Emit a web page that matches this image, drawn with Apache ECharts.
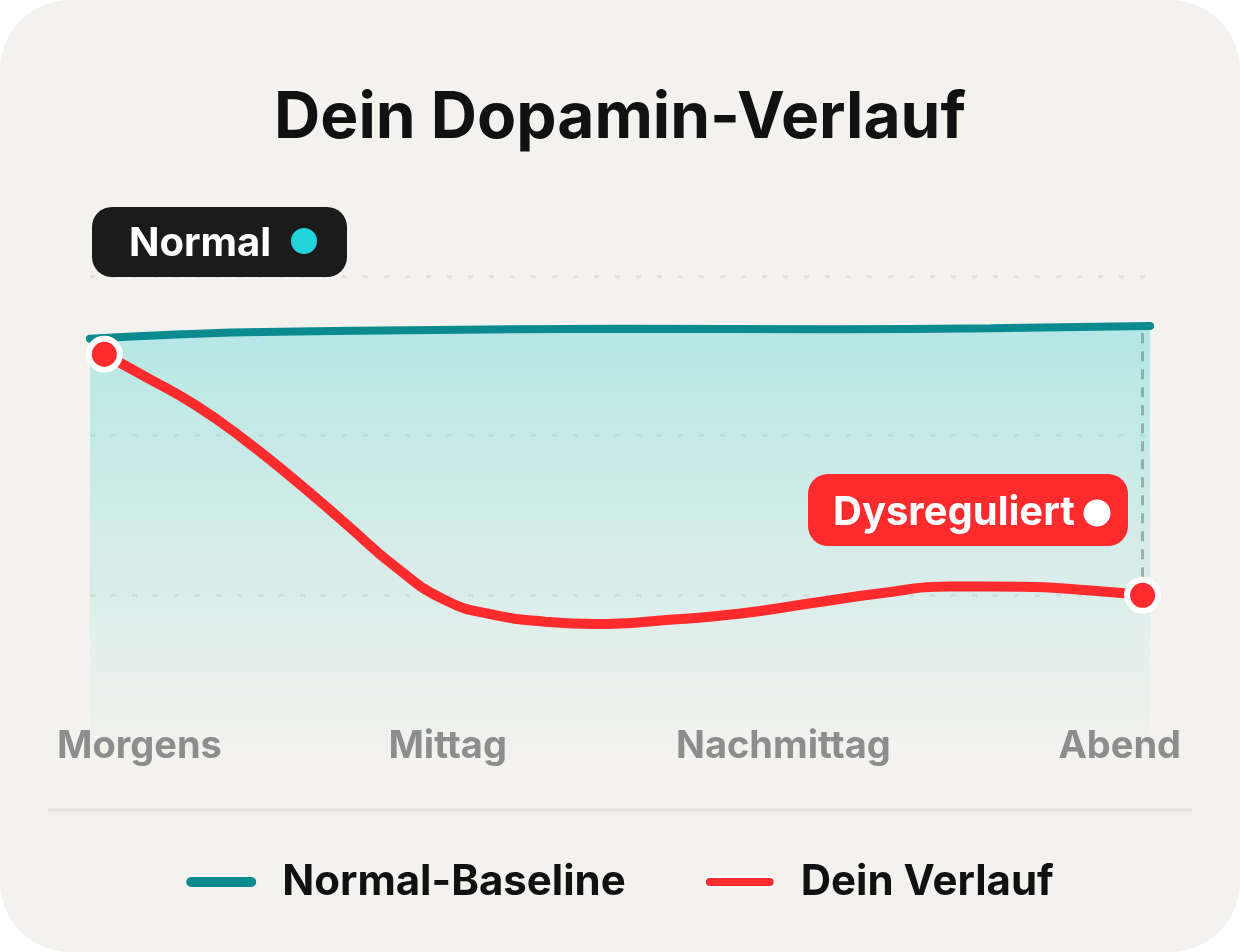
<!DOCTYPE html>
<html>
<head>
<meta charset="utf-8">
<script src="https://cdn.jsdelivr.net/npm/echarts@6/dist/echarts.min.js"></script>
<style>
  html, body { margin: 0; padding: 0; background: #ffffff; }
  #card { width: 1240px; height: 952px; border-radius: 70px; background: #f3f2ee; overflow: hidden; }
  #chart { width: 1240px; height: 952px; }
</style>
</head>
<body>
<div id="card"><div id="chart"></div></div>
<script>
// ---- data ----
const titleText = 'Dein Dopamin-Verlauf';
const categories = ['Morgens', 'Mittag', 'Nachmittag', 'Abend'];
const seriesNames = ['Normal-Baseline', 'Dein Verlauf'];
// x: progress through the day (0..100), y: dopamine level
const normalBaseline = [[0, 78.2], [12, 79.3], [30, 79.8], [50, 80.1], [70, 80.0], [85, 80.2], [100, 80.6]];
const deinVerlauf = [[1.35, 75.3], [5.2, 71.1], [9.9, 65.8], [14.6, 59.2], [19.3, 51.7], [24.1, 43.5], [28.8, 35.4],
  [33.5, 29.1], [38.2, 26.3], [42.9, 25.05], [47.6, 24.6], [54.7, 25.4], [61.4, 26.6], [68.0, 28.5], [74.6, 30.4],
  [81.2, 31.65], [87.8, 31.6], [94.4, 30.9], [99.3, 30.0]];
const badgeNormal = 'Normal';
const badgeDys = 'Dysreguliert';
const gapLineX = 99.3;
const gapLineFrom = 30.0;
const gapLineTo = 80.6;

const FONT = 'Inter, "Noto Sans", sans-serif';
const TEAL = '#0b8b8f';
const RED = '#ff2b2d';

const chart = echarts.init(document.getElementById('chart'), null, { renderer: 'canvas' });
const lastIdx = deinVerlauf.length - 1;
const labelBase = { fontFamily: FONT, fontSize: 38, fontWeight: 700, color: '#8d8d8d' };

const option = {
  backgroundColor: 'transparent',
  animation: false,
  title: {
    text: titleText, left: 'center', top: 82,
    textStyle: { fontFamily: FONT, fontSize: 64, fontWeight: 700, color: '#111111' }
  },
  legend: {
    left: 'center', top: 856,
    itemWidth: 70, itemHeight: 10, itemGap: 78,
    icon: 'path://M5,0 L65,0 A5,5 0 0 1 65,10 L5,10 A5,5 0 0 1 5,0 Z',
    textStyle: { fontFamily: FONT, fontSize: 42, fontWeight: 700, color: '#111111', padding: [0, 0, 0, 21] },
    data: seriesNames
  },
  grid: [
    { left: 90, right: 90, top: 276, bottom: 197 },
    { left: 57, right: 59, top: 276, bottom: 230 }
  ],
  xAxis: [
    { type: 'value', gridIndex: 0, min: 0, max: 100, show: false },
    {
      type: 'category', gridIndex: 1, data: categories, boundaryGap: false,
      axisLine: { show: false }, axisTick: { show: false }, splitLine: { show: false },
      axisLabel: {
        interval: 0, margin: 6, alignMinLabel: 'left', alignMaxLabel: 'right', hideOverlap: false,
        fontFamily: FONT, fontSize: 38, fontWeight: 700, color: '#8d8d8d',
        formatter: function (v, i) { return '{l' + i + '|' + v + '}'; },
        rich: {
          l0: labelBase,
          l1: Object.assign({ padding: [0, 0, 0, 32] }, labelBase),
          l2: Object.assign({ padding: [0, 46, 0, 0] }, labelBase),
          l3: labelBase
        }
      }
    }
  ],
  yAxis: [
    {
      type: 'value', gridIndex: 0, min: 0, max: 90, interval: 30,
      axisLine: { show: false }, axisTick: { show: false }, axisLabel: { show: false },
      splitLine: { show: true, showMinLine: false, lineStyle: { color: 'rgba(0,0,0,0.065)', width: 3, type: [5, 16] } }
    },
    { type: 'value', gridIndex: 1, min: 0, max: 1, show: false }
  ],
  series: [
    {
      name: seriesNames[0], type: 'line', xAxisIndex: 0, yAxisIndex: 0,
      data: normalBaseline, smooth: 0.4, showSymbol: false, z: 2,
      itemStyle: { color: TEAL },
      lineStyle: { color: TEAL, width: 8, cap: 'round' },
      areaStyle: {
        color: new echarts.graphic.LinearGradient(0, 0, 0, 1, [
          { offset: 0, color: 'rgba(30,205,208,0.42)' },
          { offset: 1, color: 'rgba(30,205,208,0.0)' }
        ])
      }
    },
    {
      name: seriesNames[1], type: 'line', xAxisIndex: 0, yAxisIndex: 0,
      data: deinVerlauf, smooth: 0.5, z: 4,
      showSymbol: true, symbol: 'circle',
      symbolSize: function (v, p) { return (p.dataIndex === 0 || p.dataIndex === lastIdx) ? 31 : 0; },
      itemStyle: { color: RED, borderColor: '#ffffff', borderWidth: 6 },
      lineStyle: { color: RED, width: 10, cap: 'round', join: 'round' },
      markLine: {
        silent: true, symbol: 'none', z: 3,
        label: { show: false },
        lineStyle: { color: 'rgba(80,105,105,0.45)', width: 3, type: [10, 8] },
        data: [[{ coord: [gapLineX, gapLineFrom] }, { coord: [gapLineX, gapLineTo] }]]
      }
    }
  ],
  graphic: [
    {
      type: 'line', shape: { x1: 48, y1: 810, x2: 1192, y2: 810 },
      style: { stroke: '#e3e2de', lineWidth: 3 }, silent: true
    },
    {
      type: 'group', left: 92, top: 207, z: 100,
      children: [
        { type: 'rect', z: 100, shape: { x: 0, y: 0, width: 255, height: 70, r: 20 }, style: { fill: '#1b1b1b' } },
        { type: 'text', z: 101, x: 37, y: 37, style: { text: badgeNormal, fill: '#ffffff', font: '700 40px ' + FONT, textVerticalAlign: 'middle', textAlign: 'left' } },
        { type: 'circle', z: 101, shape: { cx: 212, cy: 34, r: 13 }, style: { fill: '#22d3dc' } }
      ]
    },
    {
      type: 'group', left: 808, top: 474, z: 100,
      children: [
        { type: 'rect', z: 100, shape: { x: 0, y: 0, width: 320, height: 72, r: 20 }, style: { fill: RED } },
        { type: 'text', z: 101, x: 25, y: 39, style: { text: badgeDys, fill: '#ffffff', font: '700 40px ' + FONT, textVerticalAlign: 'middle', textAlign: 'left' } },
        { type: 'circle', z: 101, shape: { cx: 289, cy: 39, r: 13.5 }, style: { fill: '#ffffff' } }
      ]
    }
  ]
};
chart.setOption(option);
</script>
</body>
</html>
